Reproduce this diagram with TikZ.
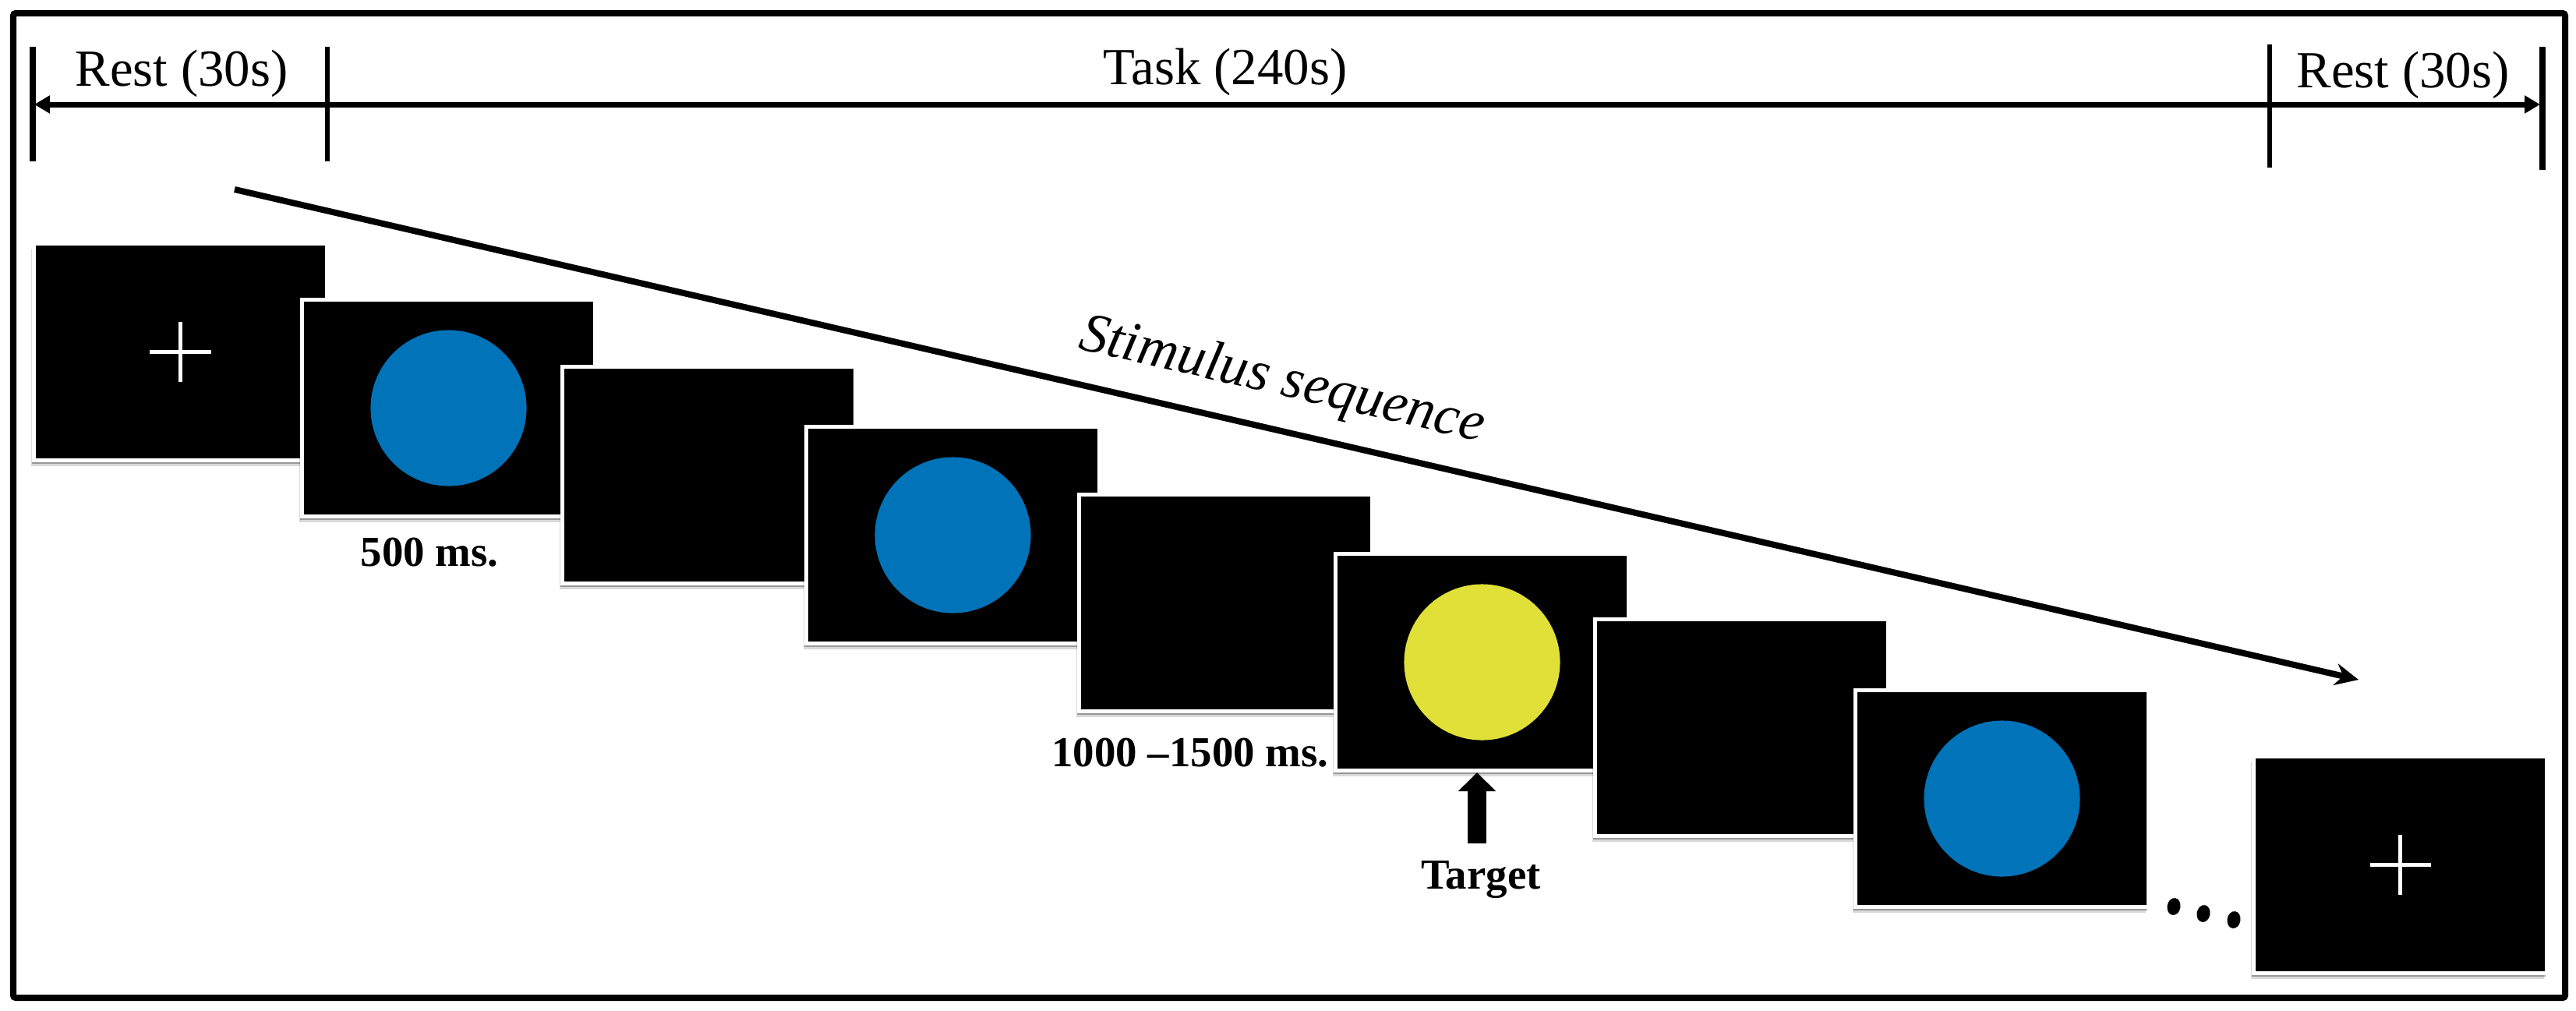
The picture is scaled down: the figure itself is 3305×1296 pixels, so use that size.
\documentclass[tikz,border=0pt]{standalone}
\usepackage{fontspec}
\setmainfont{Liberation Serif}
\usetikzlibrary{arrows.meta,shadows}
\definecolor{stimblue}{RGB}{0,115,185}
\definecolor{stimyellow}{RGB}{224,224,56}
\begin{document}
\begin{tikzpicture}[x=0.01cm,y=-0.01cm,
  screen/.style={fill=black, draw=white, line width=0.05cm,
    minimum width=3.76cm, minimum height=2.78cm, inner sep=0pt,
    general shadow={fill=black, opacity=0.15, shadow xshift=-0.035cm, shadow yshift=-0.075cm},
    general shadow={fill=black, opacity=0.3, shadow xshift=-0.02cm, shadow yshift=-0.045cm}},
  blueball/.style={circle, fill=stimblue, minimum size=2cm, inner sep=0pt},
  yellowball/.style={circle, fill=stimyellow, minimum size=2cm, inner sep=0pt},
  fixcross/.style={draw=white, line width=0.05cm},
  toplabel/.style={anchor=base, inner sep=0pt, font=\fontsize{19}{22}\selectfont},
  timelabel/.style={anchor=base, inner sep=0pt, font=\bfseries\fontsize{15.6}{18}\selectfont},
  tick/.style={line width=0.08cm},
  thintick/.style={line width=0.06cm},
  timeline/.style={line width=0.07cm, {Triangle[length=0.2cm,width=0.22cm]}-{Triangle[length=0.2cm,width=0.22cm]}},
  seqarrow/.style={line width=0.08cm, -{Stealth[length=0.3cm,width=0.28cm]}},
  bigarrow/.style={line width=0.24cm, -{Triangle[length=0.24cm,width=0.47cm]}}
]
\useasboundingbox (0,0) rectangle (3305,1296);
% outer frame
\draw[line width=0.08cm, rounded corners=0.03cm] (17,17) rectangle (3291,1280);

% timeline
\coordinate (k1a) at (42,60);   \coordinate (k1b) at (42,207);
\coordinate (k2a) at (420,60);  \coordinate (k2b) at (420,207);
\coordinate (k3a) at (2912,57); \coordinate (k3b) at (2912,215);
\coordinate (k4a) at (3262,60); \coordinate (k4b) at (3262,218);
\coordinate (tlL) at (44,134);  \coordinate (tlR) at (3259,134);
\draw[tick] (k1a) -- (k1b);
\draw[thintick] (k2a) -- (k2b);
\draw[thintick] (k3a) -- (k3b);
\draw[tick] (k4a) -- (k4b);
\draw[timeline] (tlL) -- (tlR);
\node[toplabel] (rest1) at (233,110) {Rest (30s)};
\node[toplabel] (task) at (1572,108) {Task (240s)};
\node[toplabel] (rest2) at (3083,112) {Rest (30s)};

% stimulus sequence arrow
\coordinate (seqA) at (301,243);
\coordinate (seqB) at (3026,872);
\draw[seqarrow] (seqA) -- node[pos=0.488, sloped, above=0.25cm, inner sep=0pt,
  font=\itshape\fontsize{20.5}{24}\selectfont] (seqlabel) {Stimulus sequence} (seqB);

% screens
\node[screen] (s1) at (231.5,451.5) {};
\draw[fixcross] ([xshift=-0.39cm]s1.center) -- ([xshift=0.39cm]s1.center);
\draw[fixcross] ([yshift=-0.38cm]s1.center) -- ([yshift=0.38cm]s1.center);

\node[screen] (s2) at (575.5,523.5) {};
\node[blueball] (c2) at (s2.center) {};

\node[screen] (s3) at (909.5,609.5) {};

\node[screen] (s4) at (1222.5,686.5) {};
\node[blueball] (c4) at (s4.center) {};

\node[screen] (s5) at (1572.5,773.5) {};

\node[screen] (s6) at (1901.5,849.5) {};
\node[yellowball] (c6) at (s6.center) {};

\node[screen] (s7) at (2234.5,933.5) {};

\node[screen] (s8) at (2568.5,1024.5) {};
\node[blueball] (c8) at (s8.center) {};

\node[screen] (s9) at (3079.5,1109.5) {};
\draw[fixcross] ([xshift=-0.39cm]s9.center) -- ([xshift=0.39cm]s9.center);
\draw[fixcross] ([yshift=-0.38cm]s9.center) -- ([yshift=0.38cm]s9.center);

% timing labels
\node[timelabel] (l500) at (551,726) {500 ms.};
\node[timelabel] (l1000) at (1527,983) {1000 --1500 ms.};
\node[timelabel] (target) at (1900,1140) {Target};
\coordinate (tgtfoot) at (1895,1082);
\draw[bigarrow] (tgtfoot) -- (tgtfoot |- s6.south);

% ellipsis dots
\fill[rotate around={-10:(2789,1163)}] (2789,1163) ellipse [x radius=0.085cm, y radius=0.11cm];
\fill[rotate around={-10:(2827,1172)}] (2827,1172) ellipse [x radius=0.085cm, y radius=0.11cm];
\fill[rotate around={-10:(2866,1180)}] (2866,1180) ellipse [x radius=0.085cm, y radius=0.11cm];
\end{tikzpicture}
\end{document}
